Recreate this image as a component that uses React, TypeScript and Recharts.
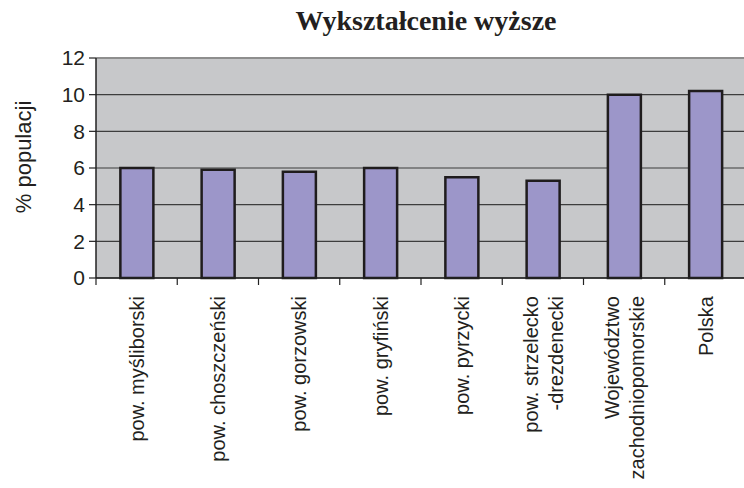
import { Bar, BarChart, CartesianGrid, ReferenceLine, XAxis, YAxis } from 'recharts';

const regions = [
  'pow. myśliborski',
  'pow. choszczeński',
  'pow. gorzowski',
  'pow. gryfiński',
  'pow. pyrzycki',
  'pow. strzelecko\n-drezdenecki',
  'Województwo\nzachodniopomorskie',
  'Polska',
];
const shares = [6.0, 5.9, 5.8, 6.0, 5.5, 5.3, 10.0, 10.2];
const yTicks = [0, 2, 4, 6, 8, 10, 12];

const data = regions.map((name, i) => ({ name, value: shares[i] }));

const FONT = '"Liberation Sans", Arial, sans-serif';

/** Rotated category label plus a tick mark on the left edge of the band. */
function RegionTick(props: any) {
  const { x, y, payload, index, visibleTicksCount, width } = props;
  const half = payload.offset || width / visibleTicksCount / 2;
  const lines = String(payload.value).split('\n');
  const lh = 25;
  const axisY = y - 9;
  return (
    <g>
      <line x1={x - half} x2={x - half} y1={axisY} y2={axisY + 7} stroke="#222" strokeWidth={1.2} />
      {index === visibleTicksCount - 1 && (
        <line x1={x + half} x2={x + half} y1={axisY} y2={axisY + 7} stroke="#222" strokeWidth={1.2} />
      )}
      <g transform={`translate(${x},${axisY})`}>
        <text
          transform="rotate(-90)"
          textAnchor="end"
          fontFamily={FONT}
          fontSize={20}
          fill="#231f20"
        >
          {lines.map((line, i) => (
            <tspan key={i} x={-18} y={(i - (lines.length - 1) / 2) * lh} dy="0.36em">
              {line}
            </tspan>
          ))}
        </text>
      </g>
    </g>
  );
}

export default function App() {
  return (
    <div
      style={{
        position: 'absolute',
        left: 0,
        top: 0,
        width: 744,
        height: 488,
        overflow: 'hidden',
        background: '#fff',
      }}
    >
      <div
        style={{
          position: 'absolute',
          left: 0,
          top: 5,
          width: 852,
          textAlign: 'center',
          fontFamily: '"Liberation Serif", "Times New Roman", serif',
          fontWeight: 'bold',
          fontSize: 28,
          color: '#231f20',
        }}
      >
        Wykształcenie wyższe
      </div>
      <BarChart
        width={780}
        height={600}
        data={data}
        margin={{ top: 58, right: 34, bottom: 0, left: 0 }}
        barCategoryGap="30%"
      >
        <CartesianGrid vertical={false} fill="#c7c8ca" stroke="#3d3d3d" strokeWidth={1.2} />
        <ReferenceLine y={12} stroke="#8e8e8e" strokeWidth={2} />
        <XAxis
          dataKey="name"
          interval={0}
          height={322}
          tickLine={false}
          tickSize={7}
          tickMargin={2}
          axisLine={{ stroke: '#222', strokeWidth: 1.5 }}
          tick={<RegionTick />}
        />
        <YAxis
          width={96}
          domain={[0, 12]}
          ticks={yTicks}
          interval={0}
          tickSize={7}
          tickMargin={4}
          tickLine={{ stroke: '#222', strokeWidth: 1.2 }}
          axisLine={{ stroke: '#222', strokeWidth: 1.5 }}
          tick={{ fontFamily: FONT, fontSize: 21, fill: '#231f20' }}
          label={{
            value: '% populacji',
            angle: -90,
            position: 'center',
            dx: -25,
            dy: -11,
            style: { fontFamily: FONT, fontSize: 22, fill: '#231f20' },
          }}
        />
        <Bar
          dataKey="value"
          fill="#9c96c9"
          stroke="#1f1c1d"
          strokeWidth={2.5}
          isAnimationActive={false}
        />
      </BarChart>
    </div>
  );
}
